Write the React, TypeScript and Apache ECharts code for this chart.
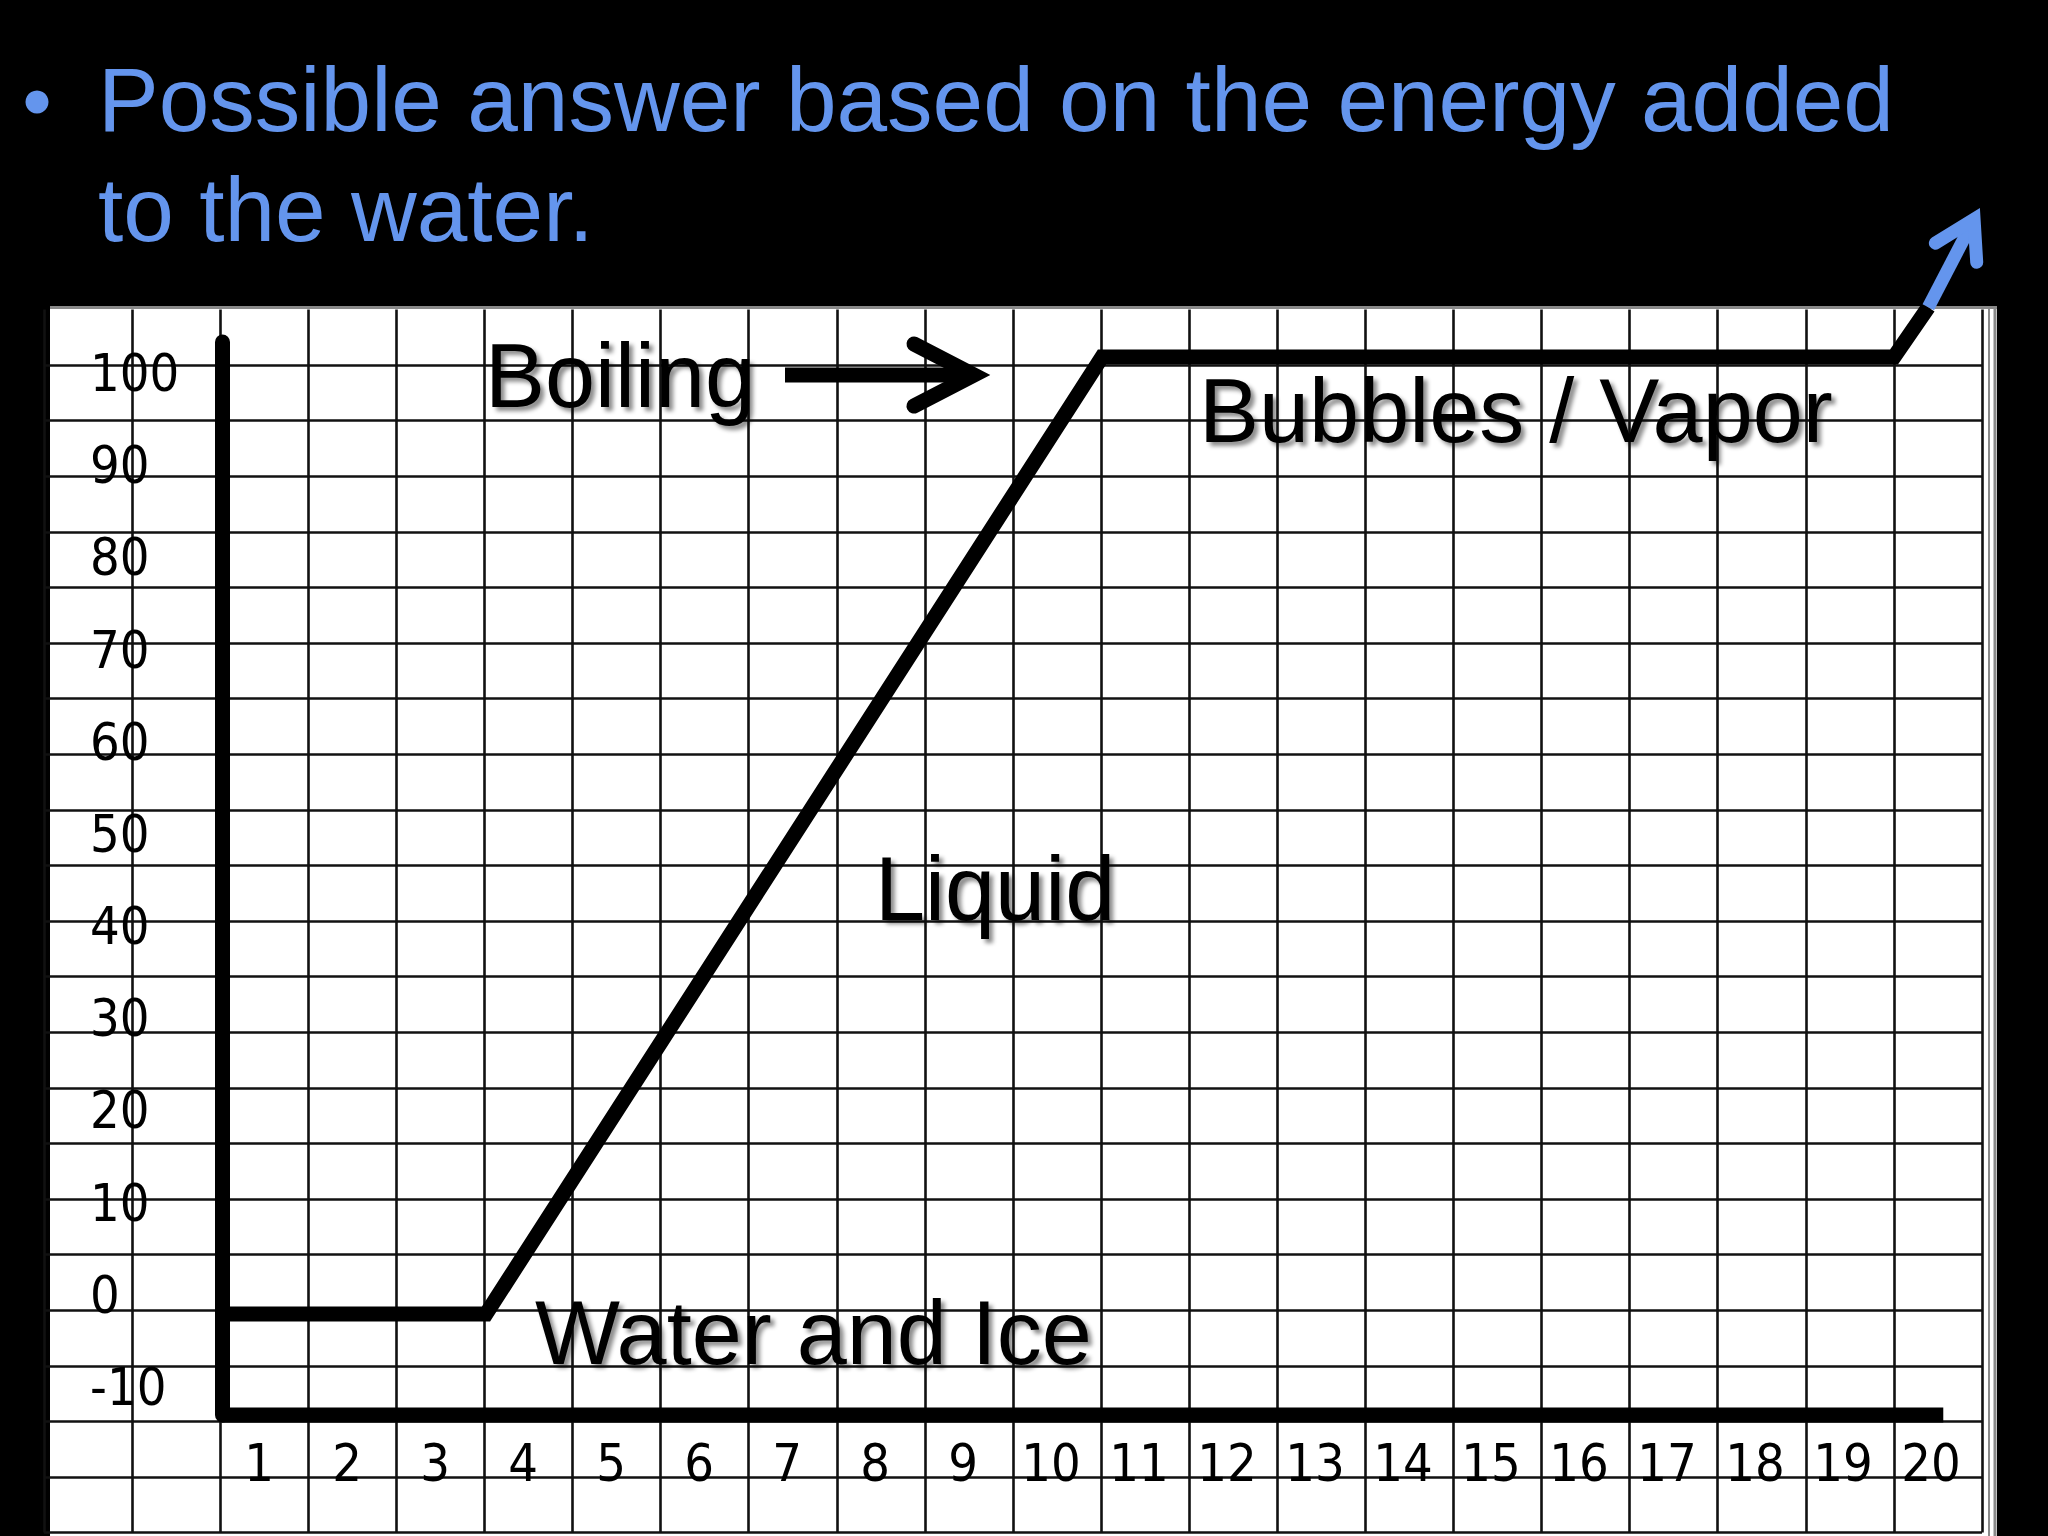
import React, { useEffect, useRef } from "react";
import * as echarts from "echarts";

// ---- data ----
const TITLE_LINES = ["Possible answer based on the energy added", "to the water."];
const X_CATEGORIES = ["1", "2", "3", "4", "5", "6", "7", "8", "9", "10", "11", "12", "13", "14", "15", "16", "17", "18", "19", "20"];
const Y_LABEL_MIN = -10;
const Y_LABEL_MAX = 100;
const Y_LABEL_STEP = 10;
// heating curve (energy in grid cells, temperature in degrees)
const CURVE_X = [0, 3, 10, 19, 19.39];
const CURVE_Y = [0, 0, 100, 100, 105.2];
// blue arrow continuing the curve
const ARROW_SHAFT_X = [19.39, 19.91];
const ARROW_SHAFT_Y = [105.2, 114.4];
const ARROW_HEAD_X = [19.47, 19.91, 19.94];
const ARROW_HEAD_Y = [111.9, 114.4, 109.9];
// hand-drawn horizontal axis (energy from 0 to 19.56 at the bottom of the temperature range)
const BASELINE_X = [0, 19.56];
const BASELINE_Y = [-10.55, -10.55];
const PHASE_LABELS = ["Boiling", "Bubbles / Vapor", "Liquid", "Water and Ice"];

const BLUE = "#6495ED";
const TICK_FONT = "'DejaVu Sans Condensed', 'DejaVu Sans', sans-serif";
const LABEL_FONT = "'Liberation Sans', Arial, sans-serif";

const zip = (xs: number[], ys: number[]) => xs.map((x, i) => [x, ys[i]]);

export default function App() {
  const ref = useRef<HTMLDivElement>(null);
  useEffect(() => {
    document.body.style.margin = "0";
    document.body.style.background = "#000";
    const chart = echarts.init(ref.current!, null, { renderer: "svg" });
    const hidden = {
      axisLine: { show: false },
      axisTick: { show: false },
      axisLabel: { show: false },
      splitLine: { show: false },
    };
    const gridLine = { show: true, showMaxLine: false, lineStyle: { color: "#111", width: 2.6 } };
    const labelShadow = {
      textShadowColor: "rgba(0,0,0,0.45)",
      textShadowBlur: 4,
      textShadowOffsetX: 4,
      textShadowOffsetY: 4,
    };
    const phaseText = (text: string, x: number, y: number) => ({
      type: "text",
      x,
      y,
      z: 20,
      style: {
        text,
        fill: "#000",
        fontSize: 90,
        fontFamily: LABEL_FONT,
        align: "left",
        verticalAlign: "middle",
        ...labelShadow,
      },
    });
    const lineSeries = (name: string, data: number[][], lineStyle: any, z: number) => ({
      name,
      type: "line",
      xAxisIndex: 1,
      yAxisIndex: 1,
      data,
      symbol: "none",
      clip: false,
      silent: true,
      z,
      lineStyle,
    });
    const option: any = {
      animation: false,
      backgroundColor: "#000",
      grid: [
        { left: 44, top: 309.4, width: 1938, height: 1223.2 },
        { left: 222, top: 342, width: 1760, height: 1073 },
        { left: 215, top: 309, width: 1760, height: 1106 },
        { left: 90, top: 373, width: 100, height: 1014 },
      ],
      xAxis: [
        {
          gridIndex: 0, type: "value", min: 0, max: 22, interval: 1,
          ...hidden, splitLine: { ...gridLine, showMaxLine: true },
        },
        { gridIndex: 1, type: "value", min: 0, max: 20, ...hidden },
        {
          gridIndex: 2, type: "category", data: X_CATEGORIES, boundaryGap: true,
          ...hidden,
          axisLabel: {
            show: true, interval: 0, margin: 48, verticalAlign: "middle",
            fontSize: 52, fontFamily: TICK_FONT, color: "#000",
          },
        },
        { gridIndex: 3, type: "value", show: false },
      ],
      yAxis: [
        {
          gridIndex: 0, type: "value", min: 0, max: 22, interval: 1,
          ...hidden, splitLine: gridLine,
        },
        {
          gridIndex: 1, type: "value", min: -10.55, max: 101.57,
          ...hidden,
          axisLine: { show: true, onZero: false, lineStyle: { color: "#000", width: 15 } },
        },
        { gridIndex: 2, type: "value", show: false },
        {
          gridIndex: 3, type: "value", min: Y_LABEL_MIN, max: Y_LABEL_MAX, interval: Y_LABEL_STEP,
          ...hidden,
          axisLabel: {
            show: true, inside: true, margin: 0,
            fontSize: 52, fontFamily: TICK_FONT, color: "#000",
          },
        },
      ],
      series: [
        lineSeries("Energy axis", zip(BASELINE_X, BASELINE_Y), { color: "#000", width: 15, cap: "butt" }, 4),
        lineSeries("Temperature", zip(CURVE_X, CURVE_Y), { color: "#000", width: 15, join: "miter", cap: "butt" }, 5),
        lineSeries("Arrow shaft", zip(ARROW_SHAFT_X, ARROW_SHAFT_Y), { color: BLUE, width: 13, cap: "butt" }, 6),
        lineSeries("Arrow head", zip(ARROW_HEAD_X, ARROW_HEAD_Y), { color: BLUE, width: 13, cap: "round", join: "miter" }, 6),
      ],
      graphic: [
        {
          type: "rect", z: -10, silent: true,
          shape: { x: 50, y: 307, width: 1947, height: 1229 },
          style: { fill: "#fff" },
        },
        {
          type: "line", z: -5, silent: true,
          shape: { x1: 50, y1: 307.5, x2: 1997, y2: 307.5 },
          style: { stroke: "#8a8a8a", lineWidth: 3 },
        },
        {
          type: "line", z: -5, silent: true,
          shape: { x1: 1989, y1: 307, x2: 1989, y2: 1536 },
          style: { stroke: "#8a8a8a", lineWidth: 2 },
        },
        {
          type: "line", z: -5, silent: true,
          shape: { x1: 1995, y1: 307, x2: 1995, y2: 1536 },
          style: { stroke: "#8a8a8a", lineWidth: 3 },
        },
        { type: "circle", z: 20, shape: { cx: 37, cy: 102, r: 11.5 }, style: { fill: BLUE } },
        {
          type: "text", x: 98, y: 99, z: 20,
          style: { text: TITLE_LINES[0], fill: BLUE, fontSize: 91, fontFamily: LABEL_FONT, verticalAlign: "middle" },
        },
        {
          type: "text", x: 98, y: 209, z: 20,
          style: { text: TITLE_LINES[1], fill: BLUE, fontSize: 91, fontFamily: LABEL_FONT, verticalAlign: "middle" },
        },
        phaseText(PHASE_LABELS[0], 485, 376),
        phaseText(PHASE_LABELS[1], 1199, 411),
        phaseText(PHASE_LABELS[2], 875, 889),
        phaseText(PHASE_LABELS[3], 535, 1333),
        {
          type: "line", z: 20, silent: true,
          shape: { x1: 785, y1: 375, x2: 966, y2: 375 },
          style: { stroke: "#000", lineWidth: 15 },
        },
        {
          type: "polyline", z: 20, silent: true,
          shape: { points: [[914, 344], [974, 375], [914, 406]] },
          style: { stroke: "#000", lineWidth: 15, lineCap: "round", lineJoin: "miter", fill: "none" },
        },
      ],
    };
    chart.setOption(option);
    return () => chart.dispose();
  }, []);
  return (
    <div
      ref={ref}
      style={{ position: "fixed", left: 0, top: 0, width: 2048, height: 1536 }}
    />
  );
}
